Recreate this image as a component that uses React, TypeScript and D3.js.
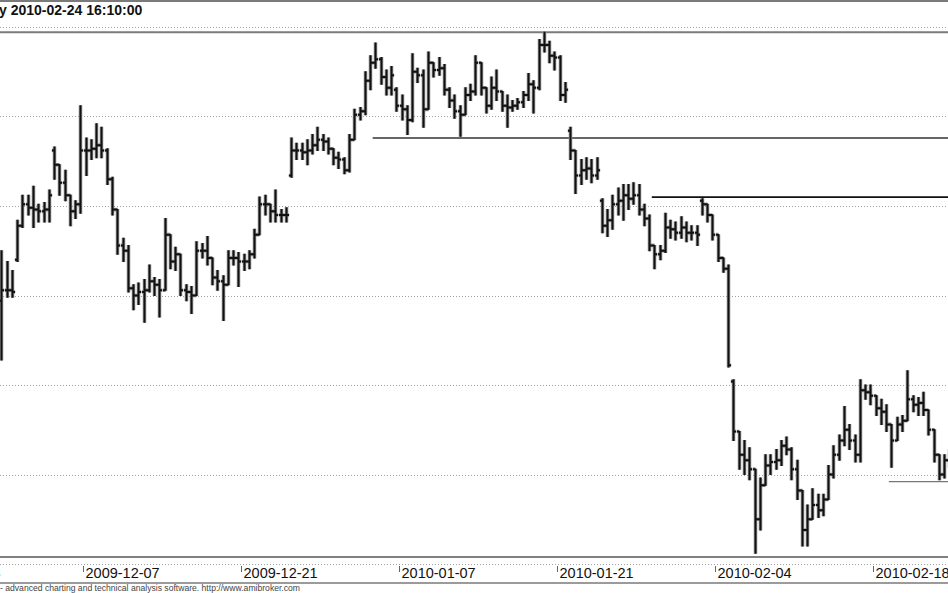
import React from 'react';
import * as d3 from 'd3';

const W = 948;
const H = 593;

const title = 'y 2010-02-24 16:10:00';
const footer = '- advanced charting and technical analysis software. http://www.amibroker.com';

// x axis: trading days (index from 2009-11-23), 3 intraday bars per day
const tickLabels = ['2009-11-23', '2009-12-07', '2009-12-21', '2010-01-07', '2010-01-21', '2010-02-04', '2010-02-18'];
const tickDayIndex = [0, 10, 20, 30, 40, 50, 60];
const barsPerDay = 3;
const totalDays = 65;
const firstBar = 14; // third bar of 2009-11-27

const gridPrices = [2550, 2500, 2450, 2400, 2350, 2300, 2250];

const opens = [
  2397, 2403, 2403, 2420, 2439, 2451, 2449, 2448, 2447, 2448,
  2481, 2473, 2463, 2456, 2447, 2451, 2481, 2481, 2482, 2484,
  2481, 2465, 2448, 2428, 2425, 2404, 2400, 2402, 2403, 2408,
  2406, 2403, 2434, 2419, 2423, 2403, 2402, 2400, 2425, 2425,
  2421, 2410, 2408, 2406, 2421, 2421, 2419, 2419, 2423, 2434,
  2451, 2451, 2447, 2445, 2445, 2467, 2481, 2481, 2480, 2481,
  2484, 2487, 2486, 2482, 2477, 2476, 2470, 2487, 2501, 2503,
  2520, 2530, 2532, 2522, 2516, 2515, 2506, 2504, 2498, 2525,
  2523, 2504, 2530, 2526, 2527, 2515, 2509, 2503, 2501, 2512,
  2514, 2530, 2516, 2506, 2516, 2514, 2506, 2505, 2506, 2508,
  2512, 2518, 2516, 2540, 2540, 2534, 2533, 2512, 2492, 2481,
  2467, 2470, 2471, 2467, 2453, 2439, 2442, 2451, 2453, 2456,
  2454, 2456, 2448, 2443, 2428, 2423, 2425, 2438, 2437, 2435,
  2438, 2435, 2435, 2453, 2451, 2445, 2434, 2421, 2415, 2352,
  2324, 2311, 2308, 2303, 2275, 2294, 2305, 2307, 2308, 2316,
  2314, 2303, 2291, 2269, 2275, 2283, 2280, 2286, 2300, 2311,
  2319, 2325, 2319, 2311, 2347, 2346, 2344, 2337, 2335, 2328,
  2319, 2328, 2330, 2342, 2339, 2340, 2336, 2325, 2311, 2300,
  2308,
];

const highs = [
  2425, 2419, 2414, 2442, 2456, 2456, 2461, 2451, 2452, 2459,
  2483, 2473, 2470, 2456, 2453, 2506, 2488, 2487, 2496, 2494,
  2482, 2466, 2448, 2432, 2428, 2406, 2407, 2409, 2417, 2410,
  2409, 2443, 2434, 2427, 2423, 2406, 2405, 2430, 2429, 2433,
  2421, 2414, 2411, 2425, 2425, 2424, 2423, 2425, 2437, 2455,
  2456, 2451, 2459, 2448, 2449, 2488, 2485, 2485, 2487, 2490,
  2494, 2490, 2488, 2482, 2480, 2477, 2490, 2504, 2505, 2525,
  2534, 2541, 2533, 2526, 2528, 2516, 2512, 2506, 2535, 2527,
  2526, 2536, 2530, 2533, 2529, 2516, 2512, 2506, 2516, 2518,
  2534, 2530, 2516, 2522, 2526, 2514, 2512, 2509, 2510, 2514,
  2524, 2520, 2543, 2547, 2542, 2536, 2534, 2519, 2494, 2481,
  2476, 2477, 2476, 2477, 2454, 2448, 2456, 2460, 2462, 2462,
  2463, 2462, 2451, 2445, 2428, 2428, 2446, 2442, 2441, 2444,
  2441, 2439, 2439, 2454, 2451, 2445, 2434, 2421, 2417, 2353,
  2324, 2319, 2315, 2303, 2298, 2311, 2311, 2314, 2319, 2321,
  2315, 2308, 2291, 2283, 2292, 2289, 2289, 2305, 2316, 2322,
  2338, 2328, 2322, 2353, 2350, 2350, 2344, 2342, 2339, 2328,
  2332, 2333, 2358, 2344, 2343, 2346, 2336, 2325, 2311, 2311,
  2314,
];

const lows = [
  2364, 2399, 2399, 2419, 2438, 2445, 2438, 2441, 2441, 2441,
  2465, 2456, 2453, 2439, 2443, 2446, 2467, 2476, 2477, 2477,
  2462, 2445, 2423, 2419, 2402, 2392, 2395, 2385, 2402, 2400,
  2388, 2403, 2415, 2414, 2400, 2397, 2390, 2400, 2421, 2417,
  2406, 2403, 2386, 2406, 2417, 2405, 2414, 2415, 2421, 2434,
  2445, 2441, 2441, 2441, 2441, 2466, 2476, 2476, 2473, 2479,
  2481, 2481, 2479, 2473, 2471, 2468, 2469, 2487, 2498, 2501,
  2515, 2527, 2518, 2512, 2512, 2503, 2498, 2490, 2497, 2519,
  2494, 2504, 2522, 2523, 2512, 2505, 2499, 2489, 2501, 2509,
  2512, 2512, 2502, 2504, 2509, 2503, 2494, 2503, 2504, 2505,
  2509, 2502, 2515, 2536, 2530, 2526, 2509, 2508, 2476, 2457,
  2462, 2465, 2463, 2465, 2435, 2433, 2437, 2445, 2442, 2448,
  2451, 2445, 2439, 2425, 2415, 2420, 2424, 2432, 2431, 2432,
  2430, 2431, 2428, 2445, 2441, 2431, 2419, 2413, 2360, 2319,
  2303, 2300, 2297, 2256, 2269, 2294, 2300, 2303, 2305, 2311,
  2297, 2286, 2260, 2260, 2275, 2276, 2277, 2286, 2298, 2308,
  2316, 2314, 2307, 2307, 2342, 2339, 2333, 2328, 2324, 2304,
  2319, 2324, 2330, 2335, 2333, 2333, 2322, 2307, 2297, 2298,
  2304,
];

const closes = [
  2403, 2403, 2402, 2439, 2451, 2449, 2448, 2447, 2448, 2456,
  2473, 2463, 2456, 2447, 2451, 2481, 2481, 2482, 2484, 2481,
  2465, 2448, 2428, 2425, 2404, 2400, 2402, 2403, 2408, 2406,
  2403, 2434, 2419, 2423, 2403, 2402, 2400, 2425, 2425, 2421,
  2410, 2408, 2406, 2421, 2421, 2419, 2419, 2423, 2434, 2451,
  2451, 2447, 2445, 2445, 2445, 2481, 2481, 2480, 2481, 2484,
  2487, 2486, 2482, 2477, 2476, 2470, 2487, 2501, 2503, 2520,
  2530, 2532, 2522, 2516, 2523, 2506, 2504, 2498, 2525, 2523,
  2504, 2530, 2526, 2527, 2515, 2509, 2503, 2501, 2512, 2514,
  2530, 2516, 2506, 2516, 2514, 2506, 2505, 2506, 2508, 2512,
  2518, 2516, 2540, 2540, 2534, 2533, 2512, 2515, 2481, 2467,
  2470, 2471, 2467, 2470, 2439, 2442, 2451, 2453, 2456, 2454,
  2456, 2448, 2443, 2428, 2423, 2425, 2438, 2437, 2435, 2438,
  2435, 2435, 2434, 2451, 2445, 2434, 2421, 2415, 2361, 2324,
  2311, 2308, 2303, 2275, 2294, 2305, 2307, 2308, 2316, 2314,
  2303, 2291, 2269, 2275, 2283, 2280, 2286, 2300, 2311, 2319,
  2325, 2319, 2311, 2347, 2346, 2344, 2337, 2335, 2328, 2319,
  2328, 2330, 2342, 2339, 2340, 2336, 2325, 2311, 2300, 2308,
  2309,
];

// horizontal trend lines drawn on the chart
const trendLevels = [2547, 2488, 2455, 2296];
const trendStartBar = [0, 85, 138, 183];
const trendColors = ['#7a7a7a', '#333', '#111', '#777'];
const trendWidths = [2, 1.6, 1.8, 1.4];

export default function App() {
  const x = d3.scaleLinear().domain([0, totalDays * barsPerDay]).range([-75, 952]);
  const y = d3.scaleLinear().domain([2250, 2550]).range([564, 27]);

  const bars = closes.map((c, i) => ({
    b: firstBar + i,
    o: opens[i],
    h: highs[i],
    l: lows[i],
    c,
  }));

  const font = "'Liberation Sans', Arial, Helvetica, sans-serif";

  const barPath = (d: { b: number; o: number; h: number; l: number; c: number }) => {
    const cx = Math.round(x(d.b + 0.5)) + 0.5;
    const p = d3.path();
    p.moveTo(cx, y(d.h) - 0.5);
    p.lineTo(cx, y(d.l) + 0.5);
    p.moveTo(cx - 2.6, y(d.o));
    p.lineTo(cx, y(d.o));
    p.moveTo(cx, y(d.c));
    p.lineTo(cx + 2.6, y(d.c));
    return p.toString();
  };

  return (
    <svg
      width={W}
      height={H}
      style={{ position: 'absolute', left: 0, top: 0, background: '#fff' }}
      fontFamily={font}
    >
      <rect x={0} y={0} width={W} height={H} fill="#fff" />
      {/* top frame */}
      <line x1={0} x2={W} y1={1} y2={1} stroke="#7a7a7a" strokeWidth={2} />
      <text x={-1} y={15} fontSize={14} fontWeight="bold" fill="#111">
        {title}
      </text>

      {/* grid */}
      {gridPrices.map((p) => (
        <line
          key={p}
          x1={0}
          x2={W}
          y1={Math.round(y(p)) + 0.5}
          y2={Math.round(y(p)) + 0.5}
          stroke="#a0a0a0"
          strokeWidth={1}
          strokeDasharray="1,2"
        />
      ))}

      {/* trend lines */}
      {trendLevels.map((p, i) => (
        <line
          key={'t' + i}
          x1={i === 0 ? 0 : x(trendStartBar[i])}
          x2={W}
          y1={y(p)}
          y2={y(p)}
          stroke={trendColors[i]}
          strokeWidth={trendWidths[i]}
        />
      ))}

      {/* bars: soft grey halo then black bar */}
      <g fill="none" strokeLinecap="butt">
        {bars.map((d) => (
          <path key={'h' + d.b} d={barPath(d)} stroke="#9a9a9a" strokeWidth={3.6} />
        ))}
        {bars.map((d) => (
          <path key={'b' + d.b} d={barPath(d)} stroke="#111" strokeWidth={2} />
        ))}
      </g>

      {/* bottom axis frame */}
      <line x1={0} x2={W} y1={557} y2={557} stroke="#808080" strokeWidth={2} />
      <line x1={0} x2={W} y1={583} y2={583} stroke="#7a7a7a" strokeWidth={1.5} />

      {tickLabels.map((t, i) => {
        const tx = Math.round(x(tickDayIndex[i] * barsPerDay)) + 0.5;
        return (
          <g key={t}>
            <line x1={tx} x2={tx} y1={566} y2={572} stroke="#666" strokeWidth={1} />
            <text x={tx + 2} y={578} fontSize={14.5} fill="#111">
              {t}
            </text>
          </g>
        );
      })}

      <text x={0} y={591} fontSize={8.6} fill="#444">
        {footer}
      </text>
    </svg>
  );
}
